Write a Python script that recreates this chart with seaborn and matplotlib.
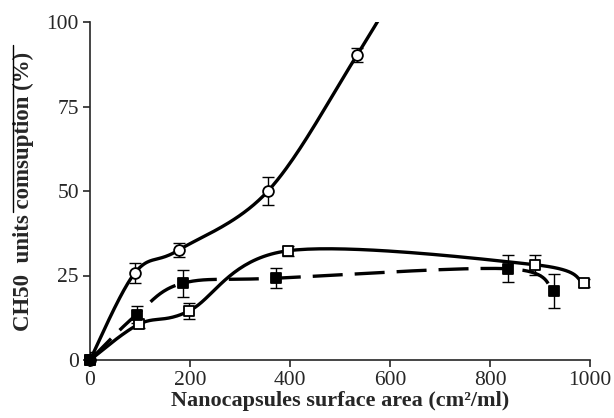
import numpy as np
import pandas as pd
import matplotlib
matplotlib.use("Agg")
import matplotlib.pyplot as plt
import seaborn as sns
from matplotlib.lines import Line2D

# ---- data ----
circ_x = [0, 90, 177, 356, 534, 715]
circ_y = [0, 25.8, 32.5, 50, 90.2, 135]
circ_err = [2.5, 3, 2, 4, 2, 0]

osq_x = [0, 98, 198, 395, 889, 987]
osq_y = [0, 10.6, 14.5, 32.3, 28.2, 22.8]
osq_err = [0, 1, 2.5, 1.5, 3, 1.2]

fsq_x = [0, 93, 185, 372, 835, 927]
fsq_y = [0, 13.4, 22.7, 24.2, 27.0, 20.4]
fsq_err = [0, 2.5, 4, 3, 4, 5]

x_ticks = [0, 200, 400, 600, 800, 1000]
y_ticks = [0, 25, 50, 75, 100]

sns.set_style("ticks")
plt.rcParams['font.family'] = ['Liberation Serif', 'DejaVu Serif']

fig = plt.figure(figsize=(6.14, 4.18), dpi=100)
ax = fig.add_axes([90/614, 1-360/418, 500/614, 338/418])


def smooth(xs, ys, sx=0.5, sy=3.38, n=40):
    # Catmull-Rom style smoothing in pixel-like space (as spreadsheet "smoothed line")
    P = np.column_stack([np.array(xs) * sx, np.array(ys) * sy])
    out = []
    m = len(P)
    for i in range(m - 1):
        p0 = P[i - 1] if i > 0 else P[i]
        p1 = P[i]
        p2 = P[i + 1]
        p3 = P[i + 2] if i + 2 < m else P[i + 1]
        c1 = p1 + (p2 - p0) / 6.0
        c2 = p2 - (p3 - p1) / 6.0
        t = np.linspace(0, 1, n)[:, None]
        seg = ((1 - t) ** 3) * p1 + 3 * ((1 - t) ** 2) * t * c1 + 3 * (1 - t) * t ** 2 * c2 + t ** 3 * p2
        out.append(seg if i == 0 else seg[1:])
    S = np.vstack(out)
    return S[:, 0] / sx, S[:, 1] / sy


series = [
    (circ_x, circ_y, circ_err, 'o', 'white', '-'),
    (osq_x, osq_y, osq_err, 's', 'white', '-'),
    (fsq_x, fsq_y, fsq_err, 's', 'black', '--'),
]

for xs, ys, es, mk, fc, ls in series:
    cx, cy = smooth(xs, ys)
    df = pd.DataFrame({"x": cx, "y": cy})
    sns.lineplot(data=df, x="x", y="y", ax=ax, color='black', lw=2.4,
                 sort=False, estimator=None, zorder=2,
                 dashes=False, linestyle=ls)
    if ls == '--':
        ax.lines[-1].set_dashes([9, 3.6])
    ax.errorbar(xs, ys, yerr=es, fmt='none', ecolor='black', elinewidth=1.0,
                capsize=4, capthick=1.0, zorder=3)
    sns.scatterplot(x=xs, y=ys, ax=ax, marker=mk, s=60, color=fc,
                    edgecolor='black', linewidth=1.3, zorder=4, clip_on=False)

ax.set_xlim(0, 1000)
ax.set_ylim(0, 100)
ax.set_xticks(x_ticks)
ax.set_yticks(y_ticks)
ax.tick_params(labelsize=15.5, length=5, width=1.2, direction='out', pad=3)
for s in ['left', 'bottom']:
    ax.spines[s].set_linewidth(1.2)
sns.despine(ax=ax)

ax.set_xlabel("Nanocapsules surface area (cm²/ml)", fontsize=16, fontweight='bold')
ax.xaxis.set_label_coords(0.5, -0.092)
ax.set_ylabel("CH50  units comsuption (%)", fontsize=16.5, fontweight='bold')
ax.yaxis.set_label_coords(-0.112, 0.5)

fig.add_artist(Line2D([13/614, 13/614], [1-45/418, 1-212/418], color='black', lw=1.0))

fig.savefig("out.png", dpi=100)
